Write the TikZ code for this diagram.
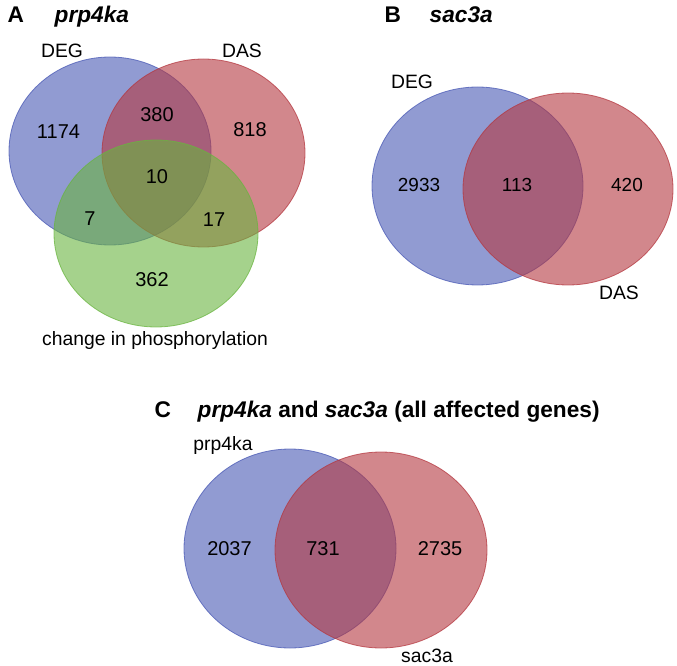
\documentclass[tikz,border=0pt]{standalone}
\usepackage{fontspec}
\setmainfont{Liberation Sans}
\definecolor{degblue}{RGB}{72,88,180}
\definecolor{dasred}{RGB}{180,55,63}
\definecolor{phosgreen}{RGB}{105,180,63}
\begin{document}
\begin{tikzpicture}[x=0.75pt, y=-0.75pt,
  set/.style={fill opacity=0.6, draw opacity=0.75, line width=0.6pt},
  num/.style={font=\fontsize{15}{18}\selectfont},
  numb/.style={font=\fontsize{14.2}{17}\selectfont},
  lab/.style={font=\fontsize{14.5}{17}\selectfont, anchor=base},
  panel/.style={font=\fontsize{17}{20}\selectfont\bfseries, anchor=base west}]
  \useasboundingbox (0,0) rectangle (677,666);

  % A
  \node[panel] (tA) at (3,23) {A};
  \node[panel] (tAgene) at (50,23) {\itshape prp4ka};
  \filldraw[set, fill=degblue, draw=degblue] (110,151) ellipse [x radius=101, y radius=94];
  \filldraw[set, fill=dasred, draw=dasred] (203.5,153) ellipse [x radius=101.5, y radius=94];
  \filldraw[set, fill=phosgreen, draw=phosgreen] (156,233.5) ellipse [x radius=102, y radius=93.5];
  \node[lab] (degA) at (62,58) {DEG};
  \node[lab] (dasA) at (242,58) {DAS};
  \node[lab] (phosA) at (155,345) {change in phosphorylation};
  \node[num] (a1174) at (58.5,131.5) {1174};
  \node[num] (a380) at (157,115) {380};
  \node[num] (a818) at (250,130) {818};
  \node[num] (a10) at (157,176.5) {10};
  \node[num] (a7) at (90,218.5) {7};
  \node[num] (a17) at (214,219.5) {17};
  \node[num] (a362) at (152,280) {362};

  % B
  \node[panel] (tB) at (380,23) {B};
  \node[panel] (tBgene) at (425,23) {\itshape sac3a};
  \filldraw[set, fill=degblue, draw=degblue] (477.5,186) ellipse [x radius=105.5, y radius=99];
  \filldraw[set, fill=dasred, draw=dasred] (568,189) ellipse [x radius=105, y radius=96];
  \node[lab] (degB) at (412,89) {DEG};
  \node[lab] (dasB) at (619,300) {DAS};
  \node[numb] (b2933) at (419,185) {2933};
  \node[numb] (b113) at (517,185) {113};
  \node[numb] (b420) at (627,185) {420};

  % C
  \node[panel] (tC) at (150,417) {C};
  \node[panel] (tCgenes) at (193,417) {\itshape prp4ka\upshape\ and \itshape sac3a\upshape\ (all affected genes)};
  \filldraw[set, fill=degblue, draw=degblue] (290,548.5) ellipse [x radius=106, y radius=99.5];
  \filldraw[set, fill=dasred, draw=dasred] (381,550) ellipse [x radius=106, y radius=98];
  \node[lab] (prpC) at (223,450) {prp4ka};
  \node[lab] (sacC) at (427,662) {sac3a};
  \node[num] (c2037) at (229.5,549) {2037};
  \node[num] (c731) at (323,549) {731};
  \node[num] (c2735) at (440,549) {2735};
\end{tikzpicture}
\end{document}
